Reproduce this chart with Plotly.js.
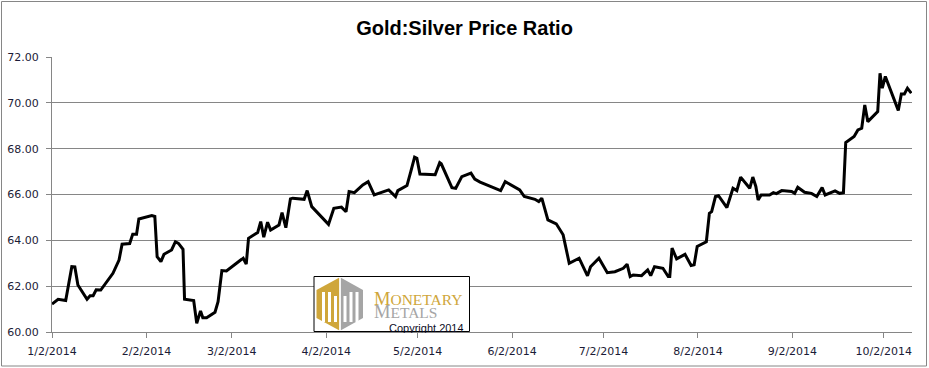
<!DOCTYPE html>
<html>
<head>
<meta charset="utf-8">
<script src="https://cdn.plot.ly/plotly-3.0.1.min.js"></script>
<style>
html,body{margin:0;padding:0;background:#fff;}
#chart{width:929px;height:368px;}
</style>
</head>
<body>
<div id="chart"></div>
<script>
var dates = [
'2014-01-02','2014-01-04','2014-01-06 12:00','2014-01-08 12:00','2014-01-09 12:00','2014-01-10 12:00',
'2014-01-13 12:00','2014-01-14 12:00','2014-01-15 12:00','2014-01-16 12:00','2014-01-18','2014-01-22',
'2014-01-24','2014-01-25','2014-01-27 12:00','2014-01-28 12:00','2014-01-29 18:00','2014-01-30 12:00',
'2014-02-03 18:00','2014-02-04 18:00','2014-02-05 12:00','2014-02-06 18:00','2014-02-07 18:00','2014-02-10 06:00',
'2014-02-11 12:00','2014-02-12 12:00','2014-02-14','2014-02-14 12:00','2014-02-17 12:00','2014-02-18 12:00',
'2014-02-19 18:00','2014-02-20 12:00','2014-02-21 18:00','2014-02-24 12:00','2014-02-25 12:00','2014-02-26 18:00',
'2014-02-28 06:00','2014-03-03','2014-03-04 12:00','2014-03-05 06:00','2014-03-05 18:00','2014-03-06 18:00',
'2014-03-07 12:00','2014-03-10 12:00','2014-03-11 12:00','2014-03-12 12:00','2014-03-13 18:00','2014-03-14 18:00',
'2014-03-17 12:00','2014-03-18 12:00','2014-03-19 18:00','2014-03-21 06:00','2014-03-22','2014-03-25 18:00',
'2014-03-26 18:00','2014-03-28 06:00','2014-04-02 18:00','2014-04-04 12:00','2014-04-07','2014-04-08 12:00',
'2014-04-09 12:00','2014-04-11 06:00','2014-04-14','2014-04-15 18:00','2014-04-17 18:00','2014-04-22 12:00',
'2014-04-24 18:00','2014-04-25 12:00','2014-04-28 12:00','2014-04-29 18:00','2014-05-01','2014-05-01 18:00',
'2014-05-02 18:00','2014-05-07 18:00','2014-05-09 06:00','2014-05-09 18:00','2014-05-13 06:00','2014-05-14 12:00',
'2014-05-16 12:00','2014-05-19 12:00','2014-05-20 18:00','2014-05-22 12:00','2014-05-29 06:00','2014-05-30 18:00',
'2014-06-04 12:00','2014-06-06','2014-06-09 12:00','2014-06-10 18:00','2014-06-11 18:00','2014-06-13 18:00',
'2014-06-16 12:00','2014-06-18 18:00','2014-06-20 18:00','2014-06-24','2014-06-26 18:00','2014-06-27 18:00',
'2014-06-30 12:00','2014-07-03 06:00','2014-07-05 18:00','2014-07-08 12:00','2014-07-09 18:00','2014-07-10 18:00',
'2014-07-11 18:00','2014-07-14 12:00','2014-07-16 12:00','2014-07-17 12:00','2014-07-18 18:00','2014-07-21 12:00',
'2014-07-23 06:00','2014-07-23 18:00','2014-07-24 12:00','2014-07-26','2014-07-28 18:00','2014-07-30 18:00',
'2014-07-31 18:00','2014-08-01 18:00','2014-08-04 18:00','2014-08-05 18:00','2014-08-06 12:00','2014-08-07 18:00',
'2014-08-08 18:00','2014-08-11 12:00','2014-08-13 12:00','2014-08-14 18:00','2014-08-16','2014-08-19',
'2014-08-20','2014-08-21','2014-08-21 18:00','2014-08-22 18:00','2014-08-25 12:00','2014-08-26 18:00',
'2014-08-27 18:00','2014-08-29 12:00','2014-09-01 18:00','2014-09-02 18:00','2014-09-03 18:00','2014-09-06',
'2014-09-08 06:00','2014-09-10','2014-09-11 18:00','2014-09-12 18:00','2014-09-16','2014-09-17 12:00',
'2014-09-18 18:00','2014-09-19 12:00','2014-09-22 06:00','2014-09-23 12:00','2014-09-24 18:00','2014-09-25 18:00',
'2014-09-26 18:00','2014-09-30','2014-09-30 18:00','2014-10-01 12:00','2014-10-02 12:00','2014-10-06 18:00',
'2014-10-07 18:00','2014-10-08 18:00','2014-10-09 18:00','2014-10-11'
];
var ratio = [
61.22,61.43,61.37,62.85,62.84,62.05,
61.43,61.58,61.58,61.84,61.83,62.56,
63.14,63.83,63.86,64.27,64.27,64.93,
65.08,65.04,63.29,63.07,63.39,63.58,
63.94,63.87,63.61,61.43,61.37,60.38,
60.92,60.62,60.62,60.86,61.32,62.68,
62.66,62.97,63.10,63.17,63.22,62.96,
64.09,64.34,64.82,64.14,64.79,64.45,
64.67,65.21,64.55,65.81,65.84,65.79,
66.17,65.47,64.70,65.40,65.45,65.25,
66.13,66.08,66.42,66.56,65.98,66.20,
65.91,66.17,66.39,67.00,67.63,67.58,
66.89,66.86,67.39,67.34,66.30,66.27,
66.78,66.93,66.67,66.54,66.17,66.56,
66.20,65.91,65.79,65.69,65.84,64.89,
64.72,64.24,63.00,63.22,62.45,62.85,
63.22,62.59,62.63,62.78,62.96,62.42,
62.49,62.46,62.71,62.46,62.85,62.78,
62.42,62.42,63.66,63.19,63.39,62.90,
62.93,63.73,63.94,65.18,65.25,65.91,
65.95,65.43,66.27,66.17,66.76,66.27,
66.76,66.35,65.76,65.98,65.98,66.08,
66.04,66.17,66.13,66.05,66.32,66.10,
66.05,65.91,66.30,65.98,66.16,66.05,
66.08,68.27,68.53,68.82,68.89,69.91,
69.18,69.62,71.29,70.64,71.15,69.67,
70.39,70.39,70.64,70.42
];
var tickDates = ['2014-01-02','2014-02-02','2014-03-02','2014-04-02','2014-05-02','2014-06-02','2014-07-02','2014-08-02','2014-09-02','2014-10-02'];
var tickLabels = ['1/2/2014','2/2/2014','3/2/2014','4/2/2014','5/2/2014','6/2/2014','7/2/2014','8/2/2014','9/2/2014','10/2/2014'];
var yTicks = [60,62,64,66,68,70,72];
var titleText = 'Gold:Silver Price Ratio';

var W = 929, H = 368;
var mL = 52, mR = 17, mT = 57, mB = 36;
var pw = W - mL - mR, ph = H - mT - mB;
function px(x){ return (x - mL) / pw; }
function py(y){ return (H - mB - y) / ph; }

var gold = '#CFA63A', grey = '#A5A5A5', axisGrey = '#868686', labelCol = '#1b1b36';

var shapes = [
  // outer chart border
  {type:'rect', xref:'paper', yref:'paper', x0:px(1.5), x1:px(926.5), y0:py(366), y1:py(1.5),
   line:{color:axisGrey, width:1}, fillcolor:'rgba(0,0,0,0)', layer:'above'},
  // logo box
  {type:'rect', xref:'paper', yref:'paper', x0:px(314), x1:px(469.5), y0:py(331.5), y1:py(276.5),
   line:{color:'#000', width:1}, fillcolor:'#fff', layer:'above'},
  // hexagon left (gold)
  {type:'path', xref:'paper', yref:'paper', layer:'above', line:{width:0}, fillcolor:gold,
   path:'M '+px(339.5)+' '+py(277.5)+' L '+px(316.5)+' '+py(290)+' L '+px(316.5)+' '+py(318)+' L '+px(339.5)+' '+py(330.5)+' Z'},
  // hexagon right (grey)
  {type:'path', xref:'paper', yref:'paper', layer:'above', line:{width:0}, fillcolor:grey,
   path:'M '+px(340.5)+' '+py(277.5)+' L '+px(363)+' '+py(290)+' L '+px(363)+' '+py(318)+' L '+px(340.5)+' '+py(330.5)+' Z'}
];
// white stripes of the M mark
[[322,325],[328,331],[334,337],[343.5,346.5],[349.5,352.5],[355.5,358.5]].forEach(function(s, i){
  shapes.push({type:'rect', xref:'paper', yref:'paper', layer:'above', line:{width:0}, fillcolor:'#fff',
    x0:px(s[0]), x1:px(s[1]), y0:py(322), y1:py(i===2||i===3 ? 296 : 292)});
});
shapes.push({type:'line', xref:'paper', yref:'paper', layer:'above', line:{color:'#fff', width:1.5},
  x0:px(340), x1:px(340), y0:py(277), y1:py(331)});

var serif = 'Liberation Serif, DejaVu Serif, serif';
var logoText = '<span style="font-size:18.5px;color:' + gold + '">M</span><span style="font-size:15.5px;color:' + gold + '">ONETARY</span>' +
  '<br><span style="font-size:18.5px;color:' + grey + '">M</span><span style="font-size:15.5px;color:' + grey + '">ETALS</span>';
var annotations = [
  {xref:'paper', yref:'paper', x:px(372), y:py(305), xanchor:'left', yanchor:'middle', align:'left', showarrow:false,
   text:logoText, font:{family:serif, size:10, color:gold}},
  {xref:'paper', yref:'paper', x:px(466), y:py(327), xanchor:'right', yanchor:'middle', showarrow:false, height:11,
   text:'Copyright 2014', font:{family:'Liberation Sans, Arial, sans-serif', size:11, color:'#0d0d26'}}
];

var trace = {
  x: dates, y: ratio, type:'scatter', mode:'lines',
  line:{color:'#000', width:3, shape:'linear'}, hoverinfo:'skip'
};

var layout = {
  width: W, height: H,
  margin:{l:mL, r:mR, t:mT, b:mB, pad:0},
  paper_bgcolor:'#fff', plot_bgcolor:'#fff',
  showlegend:false,
  title:{text:titleText, x:0.5, xanchor:'center', xref:'container', y:1-28/H, yref:'container', yanchor:'middle',
    font:{family:'Liberation Sans Narrow, Arial Narrow, sans-serif', size:20, color:'#000', weight:'bold'}},
  xaxis:{type:'date', range:['2014-01-02','2014-10-11 06:00'], tickmode:'array', tickvals:tickDates, ticktext:tickLabels,
    showgrid:false, zeroline:false, showline:true, linecolor:axisGrey, linewidth:1,
    ticks:'outside', ticklen:5, tickcolor:axisGrey, tickwidth:1, ticklabelstandoff:4,
    tickfont:{family:'DejaVu Sans, Verdana, sans-serif', size:11, color:labelCol}, fixedrange:true},
  yaxis:{range:[60,72], tickmode:'array', tickvals:yTicks, tickformat:'.2f',
    showgrid:true, gridcolor:axisGrey, gridwidth:1, zeroline:false, showline:true, linecolor:axisGrey, linewidth:1,
    ticks:'outside', ticklen:5, tickcolor:axisGrey, tickwidth:1, ticklabelstandoff:5,
    tickfont:{family:'DejaVu Sans, Verdana, sans-serif', size:11, color:labelCol}, fixedrange:true},
  shapes: shapes,
  annotations: annotations
};

Plotly.newPlot('chart', [trace], layout, {staticPlot:true, displayModeBar:false});
</script>
</body>
</html>
